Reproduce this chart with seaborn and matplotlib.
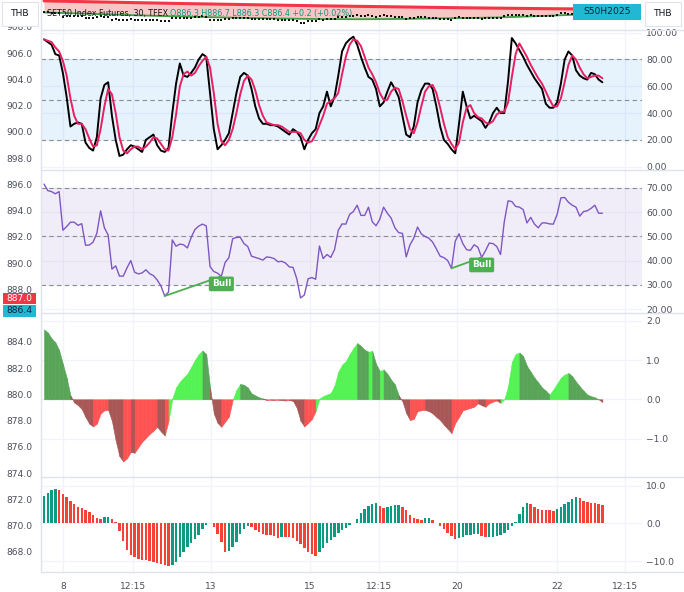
import numpy as np
import matplotlib
matplotlib.use("Agg")
import matplotlib.pyplot as plt
import seaborn as sns
from matplotlib.lines import Line2D
from matplotlib.patches import Rectangle

# ---------------- data ----------------
stoch_k = [95, 93, 91, 84, 83, 70, 52, 30, 32, 33,
           32, 18, 14, 12, 22, 51, 61, 63, 38, 20,
           8, 9, 13, 16, 15, 13, 11, 20, 22, 24,
           16, 12, 11, 14, 40, 62, 77, 68, 67, 70,
           74, 80, 84, 82, 55, 28, 13, 16, 20, 25,
           40, 55, 67, 70, 68, 58, 45, 36, 32, 32,
           31, 31, 30, 28, 26, 24, 28, 26, 22, 13,
           20, 25, 28, 40, 45, 56, 45, 52, 68, 86,
           92, 95, 97, 91, 82, 74, 67, 65, 58, 45,
           48, 56, 63, 58, 52, 38, 24, 22, 30, 48,
           57, 62, 62, 58, 45, 30, 20, 17, 13, 10,
           32, 56, 45, 36, 38, 36, 34, 29, 33, 40,
           44, 40, 40, 64, 96, 92, 87, 82, 76, 71,
           66, 62, 58, 47, 44, 44, 48, 62, 80, 86,
           83, 72, 68, 66, 65, 70, 69, 65, 63]

stoch_d = [95, 94, 93, 89, 86, 79, 68, 51, 38, 32,
           32, 28, 21, 15, 16, 28, 45, 58, 54, 40,
           22, 12, 10, 13, 15, 15, 13, 15, 18, 22,
           21, 17, 13, 12, 22, 39, 60, 69, 71, 68,
           70, 75, 79, 82, 74, 55, 32, 19, 16, 20,
           28, 40, 54, 64, 68, 65, 57, 46, 38, 33,
           32, 31, 31, 30, 28, 26, 26, 26, 25, 20,
           18, 19, 24, 31, 38, 47, 49, 51, 55, 69,
           82, 91, 95, 94, 90, 82, 74, 69, 63, 55,
           50, 50, 56, 59, 58, 49, 38, 28, 25, 33,
           45, 56, 60, 61, 55, 44, 32, 22, 17, 13,
           18, 33, 44, 46, 40, 37, 36, 33, 32, 34,
           39, 41, 41, 48, 67, 84, 92, 87, 82, 76,
           71, 66, 62, 56, 50, 45, 45, 51, 63, 76,
           83, 80, 74, 69, 66, 67, 68, 68, 66]

rsi = [71.5, 68.8, 68.4, 67.5, 68.4, 52.5, 54.0, 55.8, 55.8, 54.5,
       55.2, 46.3, 46.4, 47.6, 51.2, 60.5, 53.5, 50.5, 36.5, 37.8,
       33.6, 33.6, 37.0, 40.0, 35.2, 34.5, 34.9, 36.2, 34.6, 33.8,
       32.0, 29.5, 25.4, 27.0, 48.5, 45.9, 46.8, 46.5, 45.2, 49.5,
       52.8, 54.2, 55.0, 54.3, 37.5, 35.5, 34.8, 33.5, 39.2, 41.2,
       49.0, 49.5, 49.6, 47.0, 45.8, 41.8, 41.3, 40.8, 40.2, 41.5,
       41.3, 40.8, 39.5, 39.7, 39.0, 37.4, 37.2, 32.5, 24.6, 25.8,
       32.5, 33.0, 32.3, 46.0, 40.8, 42.5, 41.3, 44.5, 52.5, 55.1,
       55.0, 59.0, 60.2, 62.8, 58.6, 58.6, 62.0, 56.0, 54.3, 57.0,
       62.0, 59.5, 57.5, 53.5, 51.5, 51.2, 41.5, 46.5, 49.2, 53.8,
       51.0, 49.9, 49.2, 47.6, 44.8, 41.8, 41.2, 40.0, 36.8, 48.0,
       51.0, 47.0, 44.5, 44.2, 46.5, 45.5, 41.3, 44.0, 47.2, 47.0,
       45.8, 42.5, 56.0, 64.6, 64.3, 62.3, 62.0, 61.0, 55.5, 57.8,
       55.0, 53.5, 55.5, 55.5, 55.1, 55.0, 59.0, 65.8, 66.0, 64.0,
       62.8, 62.0, 58.3, 60.2, 60.5, 61.5, 62.8, 59.5, 59.5]

bull_pairs = [(32, 47), (108, 116)]

momentum = [1.78, 1.70, 1.55, 1.45, 1.25, 0.90, 0.55, 0.10, -0.08, -0.15,
            -0.25, -0.45, -0.62, -0.69, -0.62, -0.36, -0.28, -0.27, -0.55, -1.05,
            -1.45, -1.58, -1.50, -1.34, -1.36, -1.22, -1.08, -0.98, -0.88, -0.80,
            -0.70, -0.82, -0.92, -0.55, 0.02, 0.30, 0.45, 0.55, 0.65, 0.82,
            1.00, 1.15, 1.24, 1.15, 0.30, -0.36, -0.60, -0.70, -0.57, -0.44,
            -0.02, 0.24, 0.39, 0.37, 0.30, 0.15, 0.10, 0.05, 0.02, -0.02,
            -0.01, -0.02, -0.01, -0.02, -0.03, -0.02, -0.04, -0.22, -0.55, -0.69,
            -0.60, -0.50, -0.30, 0.02, 0.08, 0.12, 0.16, 0.35, 0.70, 0.88,
            0.97, 1.15, 1.30, 1.43, 1.36, 1.26, 1.21, 1.23, 0.90, 0.72,
            0.76, 0.65, 0.50, 0.38, 0.10, -0.05, -0.35, -0.53, -0.50, -0.30,
            -0.28, -0.27, -0.30, -0.36, -0.45, -0.53, -0.65, -0.75, -0.86, -0.60,
            -0.45, -0.28, -0.25, -0.22, -0.19, -0.10, -0.15, -0.19, -0.10, -0.06,
            -0.03, -0.09, 0.00, 0.33, 0.95, 1.15, 1.19, 1.10, 0.85, 0.70,
            0.55, 0.43, 0.30, 0.22, 0.12, 0.25, 0.40, 0.55, 0.63, 0.67,
            0.59, 0.45, 0.33, 0.22, 0.12, 0.08, 0.05, 0.00, -0.07]

hist = [7.1, 8.1, 8.8, 9.1, 8.8, 7.8, 6.9, 6.0, 5.0, 4.2,
        4.0, 3.6, 2.9, 2.1, 1.5, 1.2, 1.6, 1.8, 1.2, 0.3,
        -2.1, -4.8, -7.0, -8.3, -8.9, -9.4, -9.6, -9.8, -10.1, -10.3,
        -10.5, -10.7, -11.0, -11.4, -11.0, -10.2, -9.0, -7.5, -6.3, -5.2,
        -4.1, -3.0, -1.6, -0.4, 0.2, -1.1, -2.8, -5.0, -7.6, -7.3,
        -6.2, -4.9, -2.9, -1.6, -0.8, -1.1, -1.8, -2.4, -2.8, -3.0,
        -3.2, -3.4, -3.8, -3.5, -3.6, -3.7, -4.0, -4.6, -5.6, -6.6,
        -7.5, -8.2, -8.6, -7.6, -6.5, -5.3, -4.4, -3.5, -2.6, -1.9,
        -1.3, -0.5, 0.2, 1.1, 2.8, 3.7, 4.6, 5.1, 5.4, 4.7,
        4.0, 4.3, 4.7, 4.8, 4.9, 4.4, 3.4, 2.3, 1.5, 1.1,
        0.9, 1.3, 1.4, 0.9, 0.2, -0.6, -1.5, -2.5, -3.4, -4.2,
        -3.8, -3.5, -3.2, -3.0, -2.9, -2.8, -3.3, -3.7, -3.6, -3.5,
        -3.4, -3.1, -2.6, -1.8, -0.7, 0.4, 2.5, 4.2, 5.3, 5.1,
        4.4, 3.8, 3.6, 3.5, 3.4, 3.3, 3.7, 4.4, 5.1, 5.7,
        6.3, 6.9, 6.6, 6.0, 5.6, 5.5, 5.3, 5.1, 4.9]

closes = ([886.5, 886.0, 885.8, 885.5, 885.6]
          + [882.5, 882.8, 883.0, 883.0, 882.8, 883.0]
          + [881.5, 881.4, 881.6, 882.0, 883.2, 882.3, 882.0]
          + [880.2, 880.4, 879.9, 879.9, 880.3, 880.6, 880.1, 880.0, 880.1, 880.3,
             880.1, 880.0, 879.7, 879.4, 878.9, 879.1]
          + [881.8, 881.4, 881.6, 881.5, 881.3, 881.9, 882.4, 882.6, 882.8, 882.7]
          + [880.2, 880.0, 879.9, 879.8, 880.4, 880.6]
          + [881.6, 881.7, 881.7, 881.3, 881.2, 880.7, 880.6, 880.5, 880.4, 880.6,
             880.5, 880.4, 880.2, 880.3, 880.1, 879.9, 879.9]
          + [879.0, 877.8, 877.9, 878.9, 879.1, 879.0]
          + [881.0, 880.3, 880.6, 880.4, 880.9, 882.0]
          + [882.4, 882.4, 883.1, 883.2, 883.6, 883.0, 883.1, 883.6, 882.8, 882.6,
             883.0, 883.6, 883.2, 883.0, 882.4, 882.2, 882.2]
          + [880.8, 881.6, 881.9, 882.6, 882.1, 882.0, 881.9, 881.7, 881.3, 880.9,
             880.9, 880.7, 880.3]
          + [881.8, 882.2, 881.6, 881.3, 881.5, 881.8, 881.7, 881.1, 881.5, 881.9,
             881.9, 881.7, 881.2]
          + [883.2, 884.2, 884.2, 884.0, 884.0, 883.9, 883.2, 883.6, 883.3, 883.1,
             883.4, 883.4, 883.4, 883.4, 884.0, 885.2, 885.3, 885.1, 885.0, 884.9,
             884.5, 884.8, 884.8, 885.0, 885.2, 884.7, 884.7])

ma_bars = [0, 12, 24, 36, 48, 60, 72, 84, 96, 108, 120, 132, 144, 148]
ma_red = [895.3, 894.6, 893.9, 893.2, 892.6, 892.0, 891.4, 890.9, 890.4, 889.9,
          889.5, 889.1, 888.8, 888.7]
ma_green = [886.0, 885.0, 883.8, 882.8, 882.0, 881.3, 880.8, 880.6, 880.9, 881.4,
            882.0, 883.2, 884.6, 885.0]

price_ticks = [868, 870, 872, 874, 876, 878, 880, 882, 884, 888, 890, 892, 894,
               896, 898, 900, 902, 904, 906, 908]
last_price_labels = ["887.0", "886.4"]
xtick_pos = [5, 23.6, 44.3, 70.5, 88.8, 109.5, 136, 154]
xtick_lab = ["8", "12:15", "13", "15", "12:15", "20", "22", "12:15"]
header_title = "SET50 Index Futures, 30, TFEX"
header_ohlc = "O886.3 H886.7 L886.3 C886.4 +0.2 (+0.02%)"

n = len(stoch_k)
for arr in (stoch_d, rsi, momentum, hist, closes):
    assert len(arr) == n, len(arr)
bars = np.arange(n)

# ---------------- style ----------------
sns.set_theme(style="white")
plt.rcParams['font.family'] = ['Liberation Sans Narrow', 'DejaVu Sans']
plt.rcParams['axes.unicode_minus'] = True

W, H = 684, 592
fig = plt.figure(figsize=(W / 100, H / 100), dpi=100)
fig.patch.set_facecolor("white")

TXT = "#4A4E59"
GRID = "#F0F3FA"
SEP = "#E0E3EB"
DASH = "#8A8D96"
FS = 6.6
XLIM = (-0.8, 158.5)
PL, PR = 41, 642


def fx(x):
    return x / W


def fy(y):
    return 1 - y / H


def add_ax(y0, y1):
    ax = fig.add_axes([PL / W, 1 - y1 / H, (PR - PL) / W, (y1 - y0) / H])
    ax.set_facecolor("none")
    for s in ax.spines.values():
        s.set_visible(False)
    return ax


def style_pane(ax, ylim, yticks, fmt, grid_y=True):
    ax.set_xlim(*XLIM)
    ax.set_ylim(*ylim)
    ax.set_xlabel("")
    ax.set_ylabel("")
    ax.set_xticks(xtick_pos)
    ax.set_xticklabels([])
    ax.tick_params(axis="x", length=0, labelbottom=False)
    ax.xaxis.grid(True, color=GRID, lw=0.9)
    ax.yaxis.tick_right()
    ax.set_yticks(yticks)
    ax.set_yticklabels([fmt(v) for v in yticks])
    ax.tick_params(axis="y", length=0, pad=3.2, labelsize=FS, labelcolor=TXT,
                   left=False, labelleft=False, right=False, labelright=True)
    ax.yaxis.grid(grid_y, color=GRID, lw=0.9)
    ax.set_axisbelow(True)


def f2(v):
    return f"{v:.2f}"


def f1(v):
    return f"{v:.1f}".replace("-", "\u2212")


# ---------------- left price scale (whole height) ----------------
ax_l = fig.add_axes([PL / W, 1 - 572 / H, (PR - PL) / W, 572 / H])
ax_l.set_facecolor("none")
for s in ax_l.spines.values():
    s.set_visible(False)
p_top = 908 + 27 / 13.125
p_bot = 908 - 545 / 13.125
ax_l.set_ylim(p_bot, p_top)
ax_l.set_xlim(*XLIM)
ax_l.set_xticks([])
ax_l.set_yticks(price_ticks)
ax_l.set_yticklabels([f"{v:.1f}" for v in price_ticks])
ax_l.tick_params(axis="y", length=0, pad=6.3, labelsize=FS, labelcolor=TXT)
ax_l.grid(False)

# ---------------- main price pane (squashed) ----------------
ax_m = add_ax(0, 30)
ax_m.set_xlim(*XLIM)
ax_m.set_ylim(872, 896)
ax_m.set_xticks(xtick_pos)
ax_m.set_xticklabels([])
ax_m.set_yticks([])
ax_m.tick_params(length=0)
ax_m.xaxis.grid(True, color=GRID, lw=0.9)
ax_m.fill_between(ma_bars, ma_red, ma_green, color="#F8B4B4", alpha=0.75, lw=0)
sns.lineplot(x=ma_bars, y=ma_green, ax=ax_m, color="#3E9E45", lw=1.3)
sns.lineplot(x=ma_bars, y=ma_red, ax=ax_m, color="#F23645", lw=2.2)
ax_m.scatter(bars, closes, s=2.2, marker="s", color="#111111", lw=0, zorder=3)
ax_m.set_xlabel("")
ax_m.set_ylabel("")

# ---------------- stochastic pane ----------------
ax_s = add_ax(30, 170)
ax_s.axhspan(20, 80, color="#2196F3", alpha=0.11, lw=0)
for lv in (80, 50, 20):
    ax_s.axhline(lv, color=DASH, lw=0.8, ls=(0, (4, 3)))
sns.lineplot(x=bars, y=stoch_k, ax=ax_s, color="#000000", lw=1.4)
sns.lineplot(x=bars, y=stoch_d, ax=ax_s, color="#E91E63", lw=1.4)
style_pane(ax_s, (-2.46, 102.0), [0, 20, 40, 60, 80, 100], f2)

# ---------------- RSI pane ----------------
ax_r = add_ax(170, 313)
ax_r.axhspan(30, 70, color="#7E57C2", alpha=0.1, lw=0)
for lv in (70, 50, 30):
    ax_r.axhline(lv, color=DASH, lw=0.8, ls=(0, (4, 3)))
sns.lineplot(x=bars, y=rsi, ax=ax_r, color="#7E57C2", lw=1.0)
for a, b in bull_pairs:
    ax_r.plot([a, b], [rsi[a], rsi[b]], color="#4CAF50", lw=1.3, zorder=4)
    ax_r.annotate("Bull", xy=(b, rsi[b]), xytext=(0, -2.2), textcoords="offset points",
                  ha="center", va="top", fontsize=6.4, color="white", fontweight="bold",
                  zorder=5,
                  bbox=dict(boxstyle="round,pad=0.32,rounding_size=0.2",
                            fc="#4CAF50", ec="none"))
style_pane(ax_r, (18.4, 77.3), [20, 30, 40, 50, 60, 70], f2)

# ---------------- momentum area pane ----------------
ax_o = add_ax(313, 477)
BG, DG, BR, DR = "#52F352", "#58A558", "#FF5353", "#A85656"
for i in range(1, n):
    prev, v = momentum[i - 1], momentum[i]
    rising = v > prev
    if v >= 0:
        c = BG if rising else DG
    else:
        c = BR if rising else DR
    ax_o.fill_between([i - 1, i], [prev, v], 0, color=c, lw=0.4, edgecolor=c)
style_pane(ax_o, (-1.977, 2.196), [-1.0, 0.0, 1.0, 2.0], f1)

# ---------------- MACD histogram pane ----------------
ax_h = add_ax(477, 572)
hcol = ["#0E9981"] + ["#0E9981" if hist[i] > hist[i - 1] else "#F44336" for i in range(1, n)]
ax_h.bar(bars, hist, width=0.66, color=hcol, lw=0)
style_pane(ax_h, (-12.88, 12.25), [-10, 0, 10], f1)
ax_h.set_xticklabels(xtick_lab)
ax_h.tick_params(axis="x", labelbottom=True, labelsize=FS, labelcolor=TXT, pad=7.0)

# ---------------- separators ----------------
for yy in (30, 170, 313, 477, 572):
    fig.add_artist(Line2D([fx(PL), fx(684)], [fy(yy), fy(yy)], color=SEP, lw=1.0))
fig.add_artist(Line2D([fx(PL), fx(PL)], [fy(0), fy(572)], color=SEP, lw=1.0))

# ---------------- header / boxes ----------------
fig.text(fx(47), fy(13.5), header_title, fontsize=5.8, color="#131722", va="center", ha="left", zorder=10)
fig.text(fx(170), fy(13.5), header_ohlc, fontsize=5.8, color="#089981", va="center", ha="left", zorder=10)

fig.add_artist(Rectangle((fx(2), fy(26)), 36 / W, 24 / H, transform=fig.transFigure,
                         fc="white", ec=SEP, lw=0.8, zorder=9))
fig.text(fx(20), fy(14), "THB", fontsize=6.6, color="#131722", ha="center", va="center", zorder=10)
fig.add_artist(Rectangle((fx(645), fy(26)), 36 / W, 24 / H, transform=fig.transFigure,
                         fc="white", ec=SEP, lw=0.8, zorder=9))
fig.text(fx(663), fy(14), "THB", fontsize=6.6, color="#131722", ha="center", va="center", zorder=10)
fig.add_artist(Rectangle((fx(573), fy(20)), 68 / W, 16 / H, transform=fig.transFigure,
                         fc="#22B8D4", ec="none", zorder=9))
fig.text(fx(607), fy(12), "S50H2025", fontsize=6.6, color="#0B1F3A", ha="center", va="center", zorder=10)

fig.add_artist(Rectangle((fx(3), fy(304)), 33 / W, 11.5 / H, transform=fig.transFigure,
                         fc="#F23645", ec="none", zorder=9))
fig.text(fx(19.5), fy(298.3), last_price_labels[0], fontsize=6.6, color="white", ha="center", va="center", zorder=10)
fig.add_artist(Rectangle((fx(3), fy(316.5)), 33 / W, 12 / H, transform=fig.transFigure,
                         fc="#22B8D4", ec="none", zorder=9))
fig.text(fx(19.5), fy(310.5), last_price_labels[1], fontsize=6.6, color="#0B1F3A", ha="center", va="center", zorder=10)

fig.savefig("out.png", dpi=100, facecolor="white")
